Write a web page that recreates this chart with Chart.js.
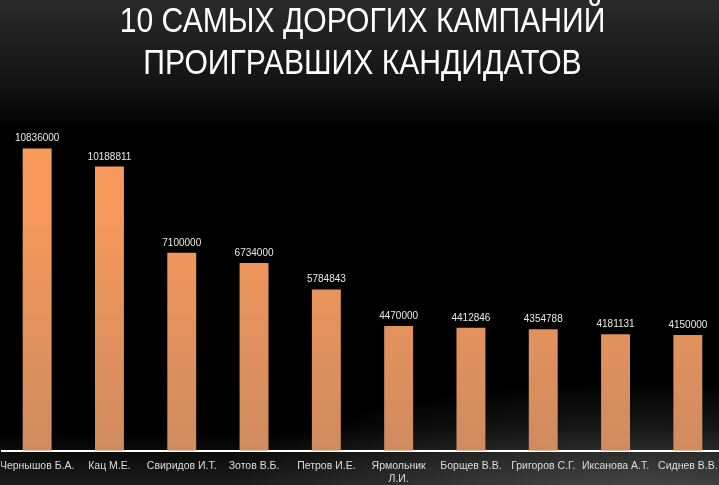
<!DOCTYPE html>
<html>
<head>
<meta charset="utf-8">
<script src="https://cdn.jsdelivr.net/npm/chart.js@4/dist/chart.umd.min.js"></script>
<style>
	html, body { margin: 0; padding: 0; }
	body {
		width: 719px; height: 485px; overflow: hidden;
		background:
			radial-gradient(ellipse 420px 120px at 640px 500px, rgba(110,110,110,0.55), rgba(0,0,0,0) 100%),
			linear-gradient(to bottom, #2a2a2a 0px, #121212 90px, #000 130px, #000 430px, #1c1c1c 485px);
	}
	#wrap { position: relative; width: 719px; height: 485px; overflow: hidden; }
	#mycanvas { position: absolute; left: 1px; top: 0; }
</style>
</head>
<body>
<div id="wrap"><canvas id="mycanvas" width="723" height="485"></canvas></div>
<script>
var candidates = ["Чернышов Б.А.", "Кац М.Е.", "Свиридов И.Т.", "Зотов В.Б.", "Петров И.Е.",
	["Ярмольник", "Л.И."], "Борщев В.В.", "Григоров С.Г.", "Иксанова А.Т.", "Сиднев В.В."];
var spending = [10836000, 10188811, 7100000, 6734000, 5784843, 4470000, 4412846, 4354788, 4181131, 4150000];
var titleLines = ["10 САМЫХ ДОРОГИХ КАМПАНИЙ", "ПРОИГРАВШИХ КАНДИДАТОВ"];

var sans = "'Liberation Sans', Arial, sans-serif";

// narrow two-line heading (Arial Narrow look, squeezed horizontally)
var narrowTitle = {
	id: 'narrowTitle',
	afterDraw: function(chart) {
		var ctx = chart.ctx;
		ctx.save();
		ctx.fillStyle = '#ffffff';
		ctx.font = '35px ' + sans;
		ctx.textAlign = 'center';
		ctx.textBaseline = 'alphabetic';
		ctx.translate(chart.width / 2, 0);
		ctx.scale(0.86, 1);
		titleLines.forEach(function(line, i) {
			ctx.fillText(line, 0, 32 + i * 42);
		});
		ctx.restore();
	}
};

// values printed above each bar
var valueLabels = {
	id: 'valueLabels',
	afterDatasetsDraw: function(chart) {
		var ctx = chart.ctx;
		var meta = chart.getDatasetMeta(0);
		ctx.save();
		ctx.fillStyle = '#e8e8e8';
		ctx.font = '10px ' + sans;
		ctx.textAlign = 'center';
		ctx.textBaseline = 'alphabetic';
		meta.data.forEach(function(bar, i) {
			ctx.fillText(spending[i], bar.x, bar.y - 7);
		});
		ctx.restore();
	}
};

var ctx = document.getElementById('mycanvas');

var chart = new Chart(ctx, {
	type: 'bar',
	data: {
		labels: candidates,
		datasets: [{
			data: spending,
			backgroundColor: function(context) {
				var area = context.chart.chartArea;
				if (!area) return '#f0965a';
				var g = context.chart.ctx.createLinearGradient(0, area.top, 0, area.bottom);
				g.addColorStop(0, '#fb9c5a');
				g.addColorStop(0.3, '#f5985b');
				g.addColorStop(1, '#cf8b5f');
				return g;
			},
			borderWidth: 0,
			barPercentage: 0.4,
			categoryPercentage: 1
		}]
	},
	options: {
		responsive: false,
		animation: false,
		devicePixelRatio: 1,
		layout: { padding: { left: 0, right: 0, top: 116, bottom: 0 } },
		plugins: {
			legend: { display: false },
			tooltip: { enabled: false },
			title: { display: false }
		},
		scales: {
			x: {
				grid: { display: false, drawTicks: false },
				border: { display: true, color: '#ffffff', width: 2 },
				ticks: {
					color: '#dcdcdc',
					font: { family: sans, size: 10.5 },
					maxRotation: 0,
					autoSkip: false,
					padding: 9
				},
				afterFit: function(scale) {
					// edge labels fit inside their own category, no extra side padding
					scale.paddingLeft = 0;
					scale.paddingRight = 0;
					// tick padding is counted twice in the height, drop one
					scale.height -= 9;
				}
			},
			y: {
				display: false,
				min: 0,
				max: 12000000
			}
		}
	},
	plugins: [valueLabels, narrowTitle]
});
</script>
</body>
</html>
